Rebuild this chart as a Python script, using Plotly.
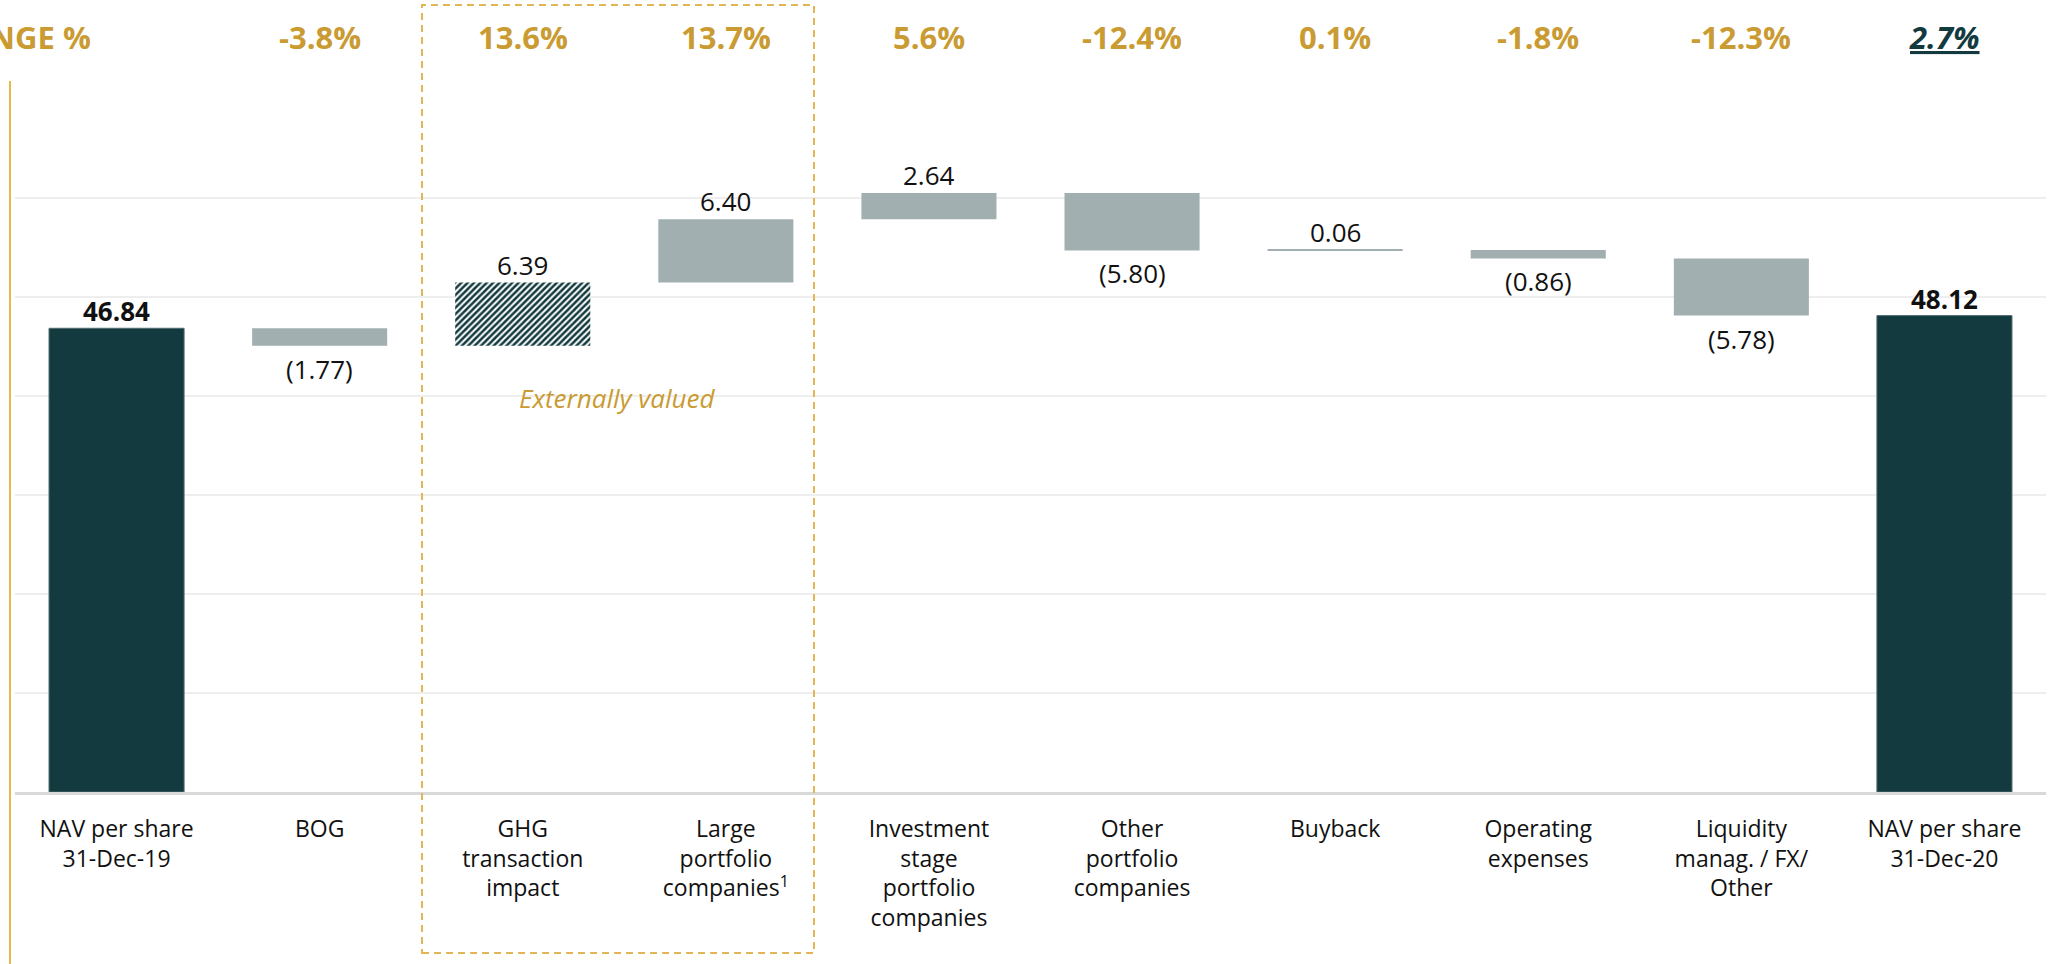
import numpy as np
import plotly.graph_objects as go

# ---- data ----
categories = [
    "NAV per share<br>31-Dec-19",
    "BOG",
    "GHG<br>transaction<br>impact",
    "Large<br>portfolio<br>companies<sup>1</sup>",
    "Investment<br>stage<br>portfolio<br>companies",
    "Other<br>portfolio<br>companies",
    "Buyback",
    "Operating<br>expenses",
    "Liquidity<br>manag. / FX/<br>Other",
    "NAV per share<br>31-Dec-20",
]
start_value = 46.84
end_value = 48.12
deltas = [-1.77, 6.39, 6.40, 2.64, -5.80, 0.06, -0.86, -5.78]
change_pct = ["-3.8%", "13.6%", "13.7%", "5.6%", "-12.4%", "0.1%", "-1.8%", "-12.3%", "2.7%"]
hatched = [False, True, False, False, False, False, False, False]

# ---- styles ----
DARK = "#133a3e"
GREY = "#a2afb1"
GOLD = "#c99b32"
GOLD_LINE = "#e2b555"
FONT = "Open Sans"

n = len(categories)
idx = list(range(n))
cum = start_value + np.cumsum(deltas)
bases = np.concatenate([[start_value], cum[:-1]])

fig = go.Figure()

# totals
fig.add_trace(go.Bar(
    x=[0, n - 1], y=[start_value, end_value],
    marker=dict(color=DARK, line=dict(width=1, color="#4f6b6e")),
    width=0.665, hoverinfo="skip", showlegend=False,
))

# plain deltas
delta_x = idx[1:-1]
plain = [not h for h in hatched]
fig.add_trace(go.Bar(
    x=[x for x, p in zip(delta_x, plain) if p],
    y=[d for d, p in zip(deltas, plain) if p],
    base=[b for b, p in zip(bases, plain) if p],
    marker=dict(color=GREY, line=dict(width=0)),
    width=0.665, hoverinfo="skip", showlegend=False,
))

# hatched deltas
fig.add_trace(go.Bar(
    x=[x for x, h in zip(delta_x, hatched) if h],
    y=[d for d, h in zip(deltas, hatched) if h],
    base=[b for b, h in zip(bases, hatched) if h],
    marker=dict(
        color=DARK, line=dict(width=0),
        pattern=dict(shape="/", fillmode="replace", fgcolor=DARK, fgopacity=1,
                     bgcolor="white", size=4.5, solidity=0.55),
    ),
    width=0.665, hoverinfo="skip", showlegend=False,
))

annotations = []
vfont = dict(family=FONT, size=26, color="#111111")
# total labels
for xi, v in [(0, start_value), (n - 1, end_value)]:
    annotations.append(dict(x=xi, y=v, xref="x", yref="y", text="<b>%.2f</b>" % v,
                            showarrow=False, xanchor="center", yanchor="middle",
                            yshift=17, font=vfont))
# delta labels
for xi, b, d in zip(delta_x, bases, deltas):
    if d >= 0:
        annotations.append(dict(x=xi, y=b + d, xref="x", yref="y", text="%.2f" % d,
                                showarrow=False, xanchor="center", yanchor="middle",
                                yshift=18, font=vfont))
    else:
        annotations.append(dict(x=xi, y=b + d, xref="x", yref="y", text="(%.2f)" % abs(d),
                                showarrow=False, xanchor="center", yanchor="middle",
                                yshift=-23, font=vfont))

# change % row
PLOT_TOP, PLOT_BOT, PLOT_L, PLOT_R = 99, 792, 15, 2046
def py(p):
    return (PLOT_BOT - p) / (PLOT_BOT - PLOT_TOP)
def px(p):
    return (p - PLOT_L) / (PLOT_R - PLOT_L)

for xi, t in zip(idx[1:], change_pct):
    last = xi == n - 1
    annotations.append(dict(
        x=xi, y=py(37), xref="x", yref="paper",
        text=("<u><i><b>%s</b></i></u>" % t) if last else "<b>%s</b>" % t,
        showarrow=False, xanchor="center", yanchor="middle",
        font=dict(family=FONT, size=31, color=DARK if last else GOLD),
    ))
annotations.append(dict(x=px(93), y=py(37), xref="paper", yref="paper",
                        text="<b>CHANGE %</b>", showarrow=False,
                        xanchor="right", yanchor="middle",
                        font=dict(family=FONT, size=31, color=GOLD)))
annotations.append(dict(x=px(617), y=py(398), xref="paper", yref="paper",
                        text="<i>Externally valued</i>", showarrow=False,
                        xanchor="center", yanchor="middle",
                        font=dict(family=FONT, size=26, color=GOLD)))

shapes = [
    # dashed box around externally valued items
    dict(type="rect", xref="paper", yref="paper",
         x0=px(422), x1=px(814), y0=py(953), y1=py(5),
         line=dict(color=GOLD_LINE, width=2, dash="7px,5px"), layer="above"),
    # left gold rule
    dict(type="line", xref="paper", yref="paper",
         x0=px(10), x1=px(10), y0=py(81), y1=py(970),
         line=dict(color="#e8b84a", width=2)),
]

fig.update_layout(
    width=2053, height=964,
    margin=dict(l=PLOT_L, r=2053 - PLOT_R, t=PLOT_TOP, b=964 - PLOT_BOT),
    paper_bgcolor="white", plot_bgcolor="white",
    barmode="overlay",
    annotations=annotations, shapes=shapes,
    font=dict(family=FONT, color="#111111"),
)
fig.update_xaxes(
    range=[-0.5, n - 0.5], tickvals=idx, ticktext=categories,
    showgrid=False, zeroline=False, showline=True, linecolor="#d9d9d9", linewidth=3,
    ticks="", tickfont=dict(family=FONT, size=23, color="#111111"),
    ticklabelstandoff=14,
)
fig.update_yaxes(
    range=[0, 70], dtick=10, showticklabels=False, showgrid=True,
    gridcolor="#eeeeee", gridwidth=1.5, zeroline=False,
)

fig.write_html("out.html")
